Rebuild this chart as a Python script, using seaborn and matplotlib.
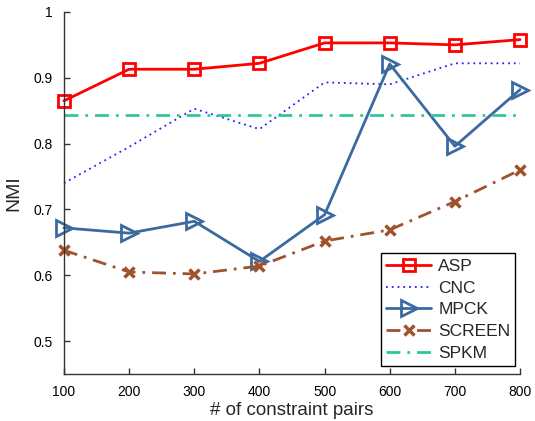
import matplotlib
matplotlib.use("Agg")
import matplotlib.pyplot as plt
import seaborn as sns
import pandas as pd

sns.set_style("ticks")
plt.rcParams['font.family'] = ['Liberation Sans', 'DejaVu Sans']

pairs = [100, 200, 300, 400, 500, 600, 700, 800]
asp = [0.865, 0.913, 0.913, 0.922, 0.953, 0.953, 0.950, 0.958]
cnc = [0.740, 0.795, 0.853, 0.822, 0.893, 0.890, 0.922, 0.922]
mpck = [0.672, 0.664, 0.682, 0.621, 0.692, 0.921, 0.796, 0.882]
screen = [0.638, 0.605, 0.602, 0.614, 0.652, 0.669, 0.712, 0.760]
spkm = [0.843] * 8
yticks = [0.5, 0.6, 0.7, 0.8, 0.9, 1.0]
ytick_labels = ["0.5", "0.6", "0.7", "0.8", "0.9", "1"]

fig = plt.figure(figsize=(5.35, 4.21), dpi=100)
ax = fig.add_axes([0.1196, 0.1116, 0.8524, 0.86])

styles = [
    ("ASP", asp, dict(color="#ff0000", ls="-", marker="s", ms=9, mew=2, lw=2)),
    ("CNC", cnc, dict(color="#2020ff", ls=(0, (1, 2.2)), marker="None", lw=1.3)),
    ("MPCK", mpck, dict(color="#3a6aa0", ls="-", marker=">", ms=12, mew=2, lw=2)),
    ("SCREEN", screen, dict(color="#a0522d", ls=(0, (5, 2.5, 1, 2.5)), marker="x", ms=7, mew=2.5, lw=2)),
    ("SPKM", spkm, dict(color="#30c896", ls=(0, (5, 2.5, 1, 2.5)), marker="None", lw=2)),
]

for name, vals, kw in styles:
    df = pd.DataFrame({"pairs": pairs, "NMI": vals})
    sns.lineplot(data=df, x="pairs", y="NMI", ax=ax, label=name, color=kw["color"])
    line = ax.lines[-1]
    line.set_linestyle(kw["ls"])
    line.set_linewidth(kw["lw"])
    line.set_marker(kw["marker"])
    line.set_clip_on(False)
    if kw["marker"] != "None":
        line.set_markersize(kw["ms"])
        line.set_markeredgewidth(kw["mew"])
        line.set_markerfacecolor("none")
        line.set_markeredgecolor(kw["color"])
    line.set_label(name)

ax.set_xlim(100, 800)
ax.set_ylim(0.45, 1.0)
ax.set_xticks(pairs)
ax.set_xticklabels([str(p) for p in pairs], fontsize=10)
ax.set_yticks(yticks)
ax.set_yticklabels(ytick_labels, fontsize=10)
ax.set_xlabel("# of constraint pairs", fontsize=13.5, labelpad=2)
ax.set_ylabel("NMI", fontsize=14, labelpad=8)
ax.tick_params(direction="in", length=4, width=1, colors="#333333", labelcolor="black", pad=8)
for s in ["top", "right"]:
    ax.spines[s].set_visible(False)
for s in ["left", "bottom"]:
    ax.spines[s].set_color("#333333")
    ax.spines[s].set_linewidth(1)

handles = ax.lines[:5]
leg = ax.legend(handles=handles, labels=[s[0] for s in styles],
                loc="lower right", bbox_to_anchor=(0.99, 0.022), borderaxespad=0,
                fontsize=12.5, frameon=True, fancybox=False, edgecolor="black",
                framealpha=1, handlelength=2.6, borderpad=0.3, labelspacing=0.38,
                handletextpad=0.4)
leg.get_frame().set_linewidth(1)
leg.set_zorder(10)

fig.savefig("out.png", dpi=100)
